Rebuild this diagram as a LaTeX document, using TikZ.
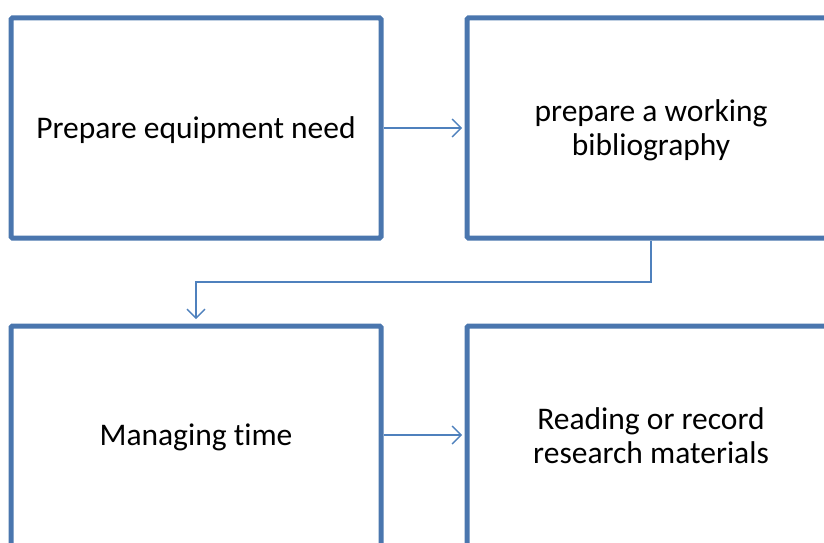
\documentclass[tikz,border=0pt]{standalone}
\usepackage{fontspec}
\setmainfont[Ligatures=NoCommon]{Carlito}
\usetikzlibrary{arrows.meta}
\definecolor{boxblue}{RGB}{74,118,174}
\definecolor{linkblue}{RGB}{79,129,189}
\begin{document}
\begin{tikzpicture}[x=1pt,y=-1pt,
  stepbox/.style={draw=boxblue,line width=5pt,rounded corners=1.5pt},
  label/.style={font=\fontsize{31.5}{34}\selectfont,align=center,text=black,inner sep=0pt},
  link/.style={draw=linkblue,line width=1.4pt,-{Straight Barb[length=9pt,width=18pt,line width=1.4pt]}}]
\useasboundingbox (0,0) rectangle (824,543);
\begin{scope}
\clip (0,0) rectangle (824,543);
\draw[stepbox] (11,18) rectangle (381,238);
\draw[stepbox] (467,18) rectangle (840,238);
\draw[stepbox] (11,326) rectangle (381,560);
\draw[stepbox] (467,326) rectangle (840,560);
\end{scope}
\coordinate (b1r) at (383.5,128);
\coordinate (b2l) at (462,128);
\coordinate (b2b) at (651,240.5);
\coordinate (b3t) at (196,319);
\coordinate (b3r) at (383.5,435);
\coordinate (b4l) at (462,435);
\node[label] (t1) at (196,130) {Prepare equipment need};
\node[label] (t2) at (651,130) {prepare a working\\bibliography};
\node[label] (t3) at (196,437) {Managing time};
\node[label] (t4) at (651,436) {Reading or record\\research materials};
\draw[link] (b1r) -- (b2l);
\draw[link] (b2b) -- (651,282) -- (196,282) -- (b3t);
\draw[link] (b3r) -- (b4l);
\end{tikzpicture}
\end{document}
